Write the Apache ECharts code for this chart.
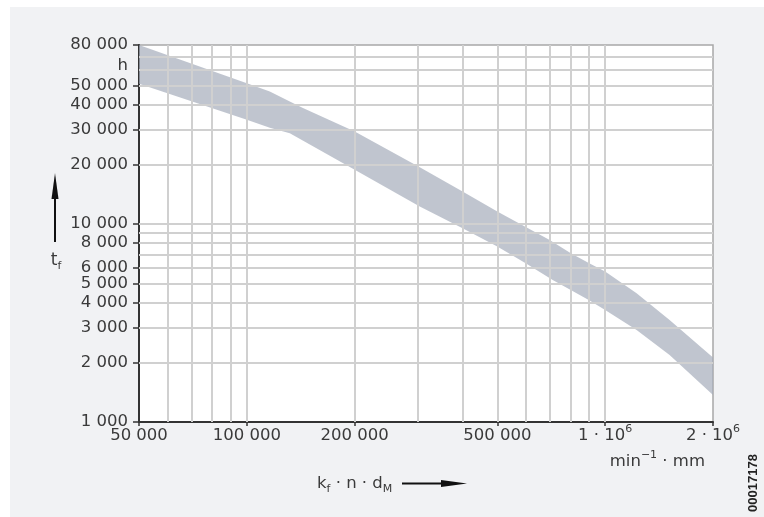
<!DOCTYPE html>
<html><head><meta charset="utf-8">
<script src="https://cdn.jsdelivr.net/npm/echarts@6/dist/echarts.min.js"></script>
<style>
html,body{margin:0;padding:0;background:#fff;}
#wrap{position:relative;width:764px;height:517px;overflow:hidden;background:#fff;}
#panel{position:absolute;left:10px;top:7px;right:0;bottom:0;background:#f1f2f4;}
#chart{position:absolute;left:0;top:0;width:764px;height:517px;}
</style></head><body>
<div id="wrap"><div id="panel"></div><div id="chart"></div></div>
<script>
// ---- data ----
const xGridValues = [60000, 70000, 80000, 90000, 100000, 200000, 300000, 400000, 500000, 600000, 700000, 800000, 900000, 1000000];
const yGridValues = [2000, 3000, 4000, 5000, 6000, 7000, 8000, 9000, 10000, 20000, 30000, 40000, 50000, 60000, 70000];
const xTickValues = [50000, 100000, 200000, 500000, 1000000, 2000000];
const xTickLabels = ['50 000', '100 000', '200 000', '500 000', '1 · 10{sup|6}', '2 · 10{sup|6}'];
const yTickValues = [1000, 2000, 3000, 4000, 5000, 6000, 8000, 10000, 20000, 30000, 40000, 50000, 80000];
const yTickLabels = ['1 000', '2 000', '3 000', '4 000', '5 000', '6 000', '8 000', '10 000', '20 000', '30 000', '40 000', '50 000', '80 000'];

const bandUpperX = [50000, 100000, 115900, 131800, 143400, 200000, 303800, 400000, 500000, 700000, 800000, 900000, 1000000, 1224000, 1513000, 2000000];
const bandUpperY = [80000, 51350, 46600, 41470, 38500, 29300, 19300, 14560, 11535, 8302, 7138, 6340, 5745, 4468, 3275, 2118];
const bandLowerX = [50000, 100000, 115900, 131800, 200000, 303800, 400000, 500000, 600000, 713900, 900000, 1000000, 1224000, 1513000, 2000000];
const bandLowerY = [51000, 33520, 30540, 28710, 18740, 12230, 9500, 7680, 6330, 5214, 4135, 3679, 2915, 2180, 1369];

// ---- chart ----
const FONT = 'DejaVu Sans';
const TXT = '#3a3a3a';
const FS = 16.5;
function nearest(values, labels, v) {
  let best = 0, bd = Infinity;
  for (let i = 0; i < values.length; i++) {
    const d = Math.abs(Math.log(v) - Math.log(values[i]));
    if (d < bd) { bd = d; best = i; }
  }
  return labels[best];
}
const chart = echarts.init(document.getElementById('chart'));
const option = {
  backgroundColor: 'transparent',
  animation: false,
  grid: { left: 139, top: 45, right: 51, bottom: 95, containLabel: false, outerBoundsMode: 'none',
          show: true, backgroundColor: '#fff', borderColor: '#a8a8a8', borderWidth: 1.5 },
  xAxis: {
    type: 'log', logBase: 10, min: 50000, max: 2000000,
    axisLine: { show: true, onZero: false, lineStyle: { color: '#333', width: 2 } },
    axisTick: { show: true, customValues: xTickValues, length: 4, lineStyle: { color: '#333', width: 1.5 } },
    axisLabel: {
      customValues: xTickValues, margin: 2, fontFamily: FONT, fontSize: FS, color: TXT,
      formatter: v => nearest(xTickValues, xTickLabels, v),
      rich: { sup: { fontFamily: FONT, fontSize: 11, lineHeight: 12, verticalAlign: 'top', color: TXT } },
      lineHeight: 24
    },
    splitLine: { show: false }, minorTick: { show: false }, minorSplitLine: { show: false }
  },
  yAxis: {
    type: 'log', logBase: 10, min: 1000, max: 80000,
    axisLine: { show: true, onZero: false, lineStyle: { color: '#333', width: 2 } },
    axisTick: { show: true, customValues: yTickValues, length: 6, lineStyle: { color: '#333', width: 1.5 } },
    axisLabel: {
      customValues: yTickValues, margin: 11, fontFamily: FONT, fontSize: FS, color: TXT,
      formatter: v => nearest(yTickValues, yTickLabels, v)
    },
    splitLine: { show: false }, minorTick: { show: false }, minorSplitLine: { show: false }
  },
  series: [
    {
      type: 'line', z: 1, silent: true, showSymbol: false, data: [[50000, 80000]],
      lineStyle: { opacity: 0 },
      markLine: {
        silent: true, symbol: ['none', 'none'], label: { show: false }, animation: false,
        lineStyle: { color: '#d0d0d0', width: 2, type: 'solid' },
        emphasis: { disabled: true },
        data: xGridValues.map(v => ({ xAxis: v })).concat(yGridValues.map(v => ({ yAxis: v })))
      }
    },
    {
      type: 'custom', z: 3, silent: true, data: [[50000, 80000]],
      renderItem: function (params, api) {
        const pts = [];
        for (let i = 0; i < bandUpperX.length; i++) pts.push(api.coord([bandUpperX[i], bandUpperY[i]]));
        for (let i = bandLowerX.length - 1; i >= 0; i--) pts.push(api.coord([bandLowerX[i], bandLowerY[i]]));
        return { type: 'polygon', shape: { points: pts }, style: { fill: 'rgba(165,173,187,0.7)' } };
      }
    }
  ],
  graphic: [
    { type: 'text', x: 128, y: 66, style: { text: 'h', fontFamily: FONT, fontSize: FS, fill: TXT, align: 'right', verticalAlign: 'middle' } },
    { type: 'text', x: 56, y: 261, style: {
        text: '{b|t}{s|f}', align: 'center', verticalAlign: 'middle', fill: TXT,
        rich: { b: { fontFamily: FONT, fontSize: 17, lineHeight: 22, fill: TXT },
                s: { fontFamily: FONT, fontSize: 11, lineHeight: 12, verticalAlign: 'bottom', fill: TXT } } } },
    { type: 'line', shape: { x1: 55, y1: 242, x2: 55, y2: 196 }, style: { stroke: '#111', lineWidth: 2 } },
    { type: 'polygon', shape: { points: [[55, 173], [51.5, 199], [58.5, 199]] }, style: { fill: '#111' } },
    { type: 'text', x: 317, y: 484, style: {
        text: '{b|k}{s|f}{b| · n · d}{s|M}', align: 'left', verticalAlign: 'middle', fill: TXT,
        rich: { b: { fontFamily: FONT, fontSize: FS, lineHeight: 22, fill: TXT },
                s: { fontFamily: FONT, fontSize: 11, lineHeight: 12, verticalAlign: 'bottom', fill: TXT } } } },
    { type: 'line', shape: { x1: 402, y1: 483.5, x2: 444, y2: 483.5 }, style: { stroke: '#111', lineWidth: 2 } },
    { type: 'polygon', shape: { points: [[467, 483.5], [441, 480], [441, 487]] }, style: { fill: '#111' } },
    { type: 'text', x: 705, y: 462, style: {
        text: '{b|min}{p|\u22121}{b| · mm}', align: 'right', verticalAlign: 'middle', fill: TXT,
        rich: { b: { fontFamily: FONT, fontSize: FS, lineHeight: 24, fill: TXT },
                p: { fontFamily: FONT, fontSize: 11, lineHeight: 12, verticalAlign: 'top', fill: TXT } } } },
    { type: 'text', x: 753, y: 483, rotation: Math.PI / 2, style: {
        text: '00017178', fontFamily: 'Liberation Sans', fontWeight: 'bold', fontSize: 13, fill: '#222',
        align: 'center', verticalAlign: 'middle' } }
  ]
};
chart.setOption(option);
</script>
</body></html>
